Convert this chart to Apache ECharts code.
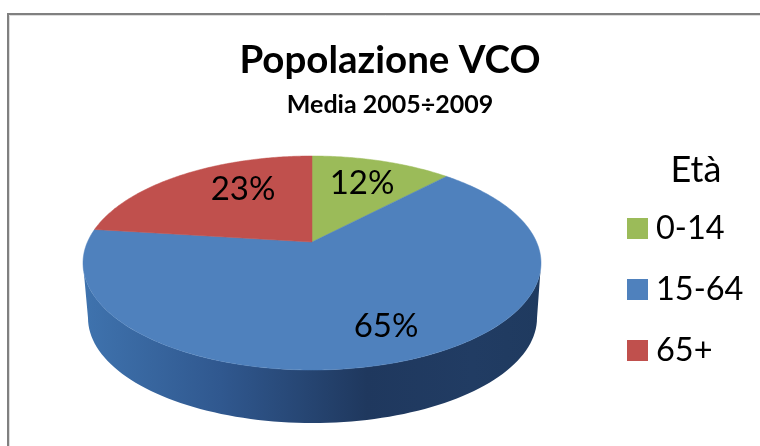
<!DOCTYPE html>
<html>
<head>
<meta charset="utf-8">
<style>
html, body { margin: 0; padding: 0; background: #fff; }
#chart { width: 760px; height: 446px; }
</style>
<script src="https://cdn.jsdelivr.net/npm/echarts@6/dist/echarts.min.js"></script>
</head>
<body>
<div id="chart"></div>
<script>
const categories = ['0-14', '15-64', '65+'];
const shares = [12, 65, 23];
const colors = ['#9bbb59', '#4f81bd', '#c0504d'];

// top face of the tilted pie, the disc is projected so its centre sits above the ellipse centre
const face = { x: 312, y: 263, rx: 229, ry: 107 };
const base = { x: 312.5, y: 318, rx: 224.5, ry: 105 };
const tilt = -0.196;
const labelAt = [[362, 183], [386, 326], [243, 189]];

function project(angle) {
    let u = Math.sin(angle), v = -Math.cos(angle);
    let d = 1 + tilt * v;
    return [
        face.x + face.rx * Math.sqrt(1 - tilt * tilt) * u / d,
        face.y + face.ry * (v + tilt) / d
    ];
}

function wallPoints() {
    let pts = [];
    for (let t = 0; t <= 180; t += 2) {
        let a = t * Math.PI / 180;
        pts.push([face.x + face.rx * Math.cos(a), face.y + face.ry * Math.sin(a)]);
    }
    for (let t = 180; t >= 0; t -= 2) {
        let a = t * Math.PI / 180;
        pts.push([base.x + base.rx * Math.cos(a), base.y + base.ry * Math.sin(a)]);
    }
    return pts;
}

function makeSlice(index) {
    const total = shares.reduce((a, b) => a + b, 0);
    const before = shares.slice(0, index).reduce((a, b) => a + b, 0);
    return function (params, api) {
        let from = before / total * Math.PI * 2;
        let to = from + api.value(0) / total * Math.PI * 2;
        // fan out from the projected centre
        let pts = [[face.x, face.y + face.ry * tilt]];
        let steps = Math.ceil((to - from) * 90);
        for (let i = 0; i <= steps; i++) {
            pts.push(project(from + (to - from) * i / steps));
        }
        let children = [];
        if (index === 1) {
            // the only slice facing the viewer carries the side wall
            children.push({
                type: 'polygon',
                shape: { points: wallPoints() },
                style: {
                    fill: new echarts.graphic.LinearGradient(0, 0, 1, 0, [
                        { offset: 0, color: '#3f73ae' },
                        { offset: 0.3, color: '#30588f' },
                        { offset: 0.62, color: '#1f385e' },
                        { offset: 0.85, color: '#213c63' },
                        { offset: 1, color: '#1f3a5f' }
                    ])
                }
            });
        }
        children.push({
            type: 'polygon',
            shape: { points: pts },
            style: { fill: colors[index], stroke: colors[index], lineWidth: 0.5 }
        });
        children.push({
            type: 'text',
            z2: 10,
            style: {
                text: api.value(0) + '%',
                x: labelAt[index][0],
                y: labelAt[index][1],
                fill: '#000',
                font: '33px Lato',
                align: 'center',
                verticalAlign: 'middle'
            }
        });
        return { type: 'group', children: children };
    };
}

const chart = echarts.init(document.getElementById('chart'));
chart.setOption({
    animation: false,
    backgroundColor: '#fff',
    title: [{
        text: 'Popolazione VCO',
        subtext: 'Media 2005÷2009',
        left: 385,
        top: 36,
        textAlign: 'center',
        itemGap: 12,
        textStyle: { fontFamily: 'Lato', fontSize: 38.5, fontWeight: 'bold', color: '#000' },
        subtextStyle: { fontFamily: 'Lato', fontSize: 25, fontWeight: 'bold', color: '#000' }
    }, {
        text: 'Età',
        left: 691,
        top: 147,
        textAlign: 'center',
        textStyle: { fontFamily: 'Lato', fontSize: 36, fontWeight: 'normal', color: '#000' }
    }],
    legend: {
        orient: 'vertical',
        left: 622,
        top: 207,
        icon: 'rect',
        itemWidth: 21,
        itemHeight: 21,
        itemGap: 28,
        selectedMode: false,
        data: categories,
        textStyle: { fontFamily: 'Lato', fontSize: 32.5, color: '#000', padding: [0, 0, 0, 3] }
    },
    graphic: [{
        type: 'rect',
        silent: true,
        shape: { x: 9.5, y: 15.5, width: 800, height: 480 },
        style: { fill: 'transparent', stroke: '#dddddd', lineWidth: 1 }
    }, {
        type: 'rect',
        silent: true,
        shape: { x: 8, y: 14, width: 800, height: 480 },
        style: { fill: 'transparent', stroke: '#808080', lineWidth: 2 }
    }],
    series: categories.map((name, i) => ({
        type: 'custom',
        name: name,
        coordinateSystem: 'none',
        silent: true,
        itemStyle: { color: colors[i] },
        data: [[shares[i]]],
        renderItem: makeSlice(i)
    }))
});
</script>
</body>
</html>
